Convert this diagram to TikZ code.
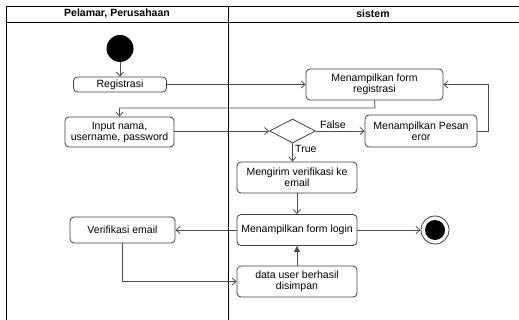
\documentclass[tikz,border=0pt]{standalone}
\usepackage{fontspec}
\setmainfont{Liberation Sans}
\usetikzlibrary{arrows.meta,shapes.geometric}
\begin{document}
\begin{tikzpicture}[x=1pt,y=-1pt,
  font=\fontsize{10.5}{11}\selectfont,
  lane/.style={draw=black,line width=0.8pt},
  act/.style={draw=black!75,line width=0.8pt,rounded corners=4pt,align=center,inner sep=0pt},
  flow/.style={draw=black!70,line width=0.8pt,-{Straight Barb[length=4pt,width=7pt]}},
  solidflow/.style={draw=black!70,line width=0.8pt,-{Triangle[length=6pt,width=6pt]}},
  dec/.style={draw=black!75,line width=0.8pt,diamond,minimum width=46pt,minimum height=24pt,inner sep=0pt}]
\useasboundingbox (0,0) rectangle (519,320);
\fill[white] (0,0) rectangle (519,320);

% swimlanes
\draw[lane] (6,320) -- (6,6) -- (519,6);
\draw[lane] (6,22) -- (519,22);
\draw[lane] (228,6) -- (228,320);
\node[font=\fontsize{10.5}{11}\selectfont\bfseries] (laneA) at (117,14) {Pelamar, Perusahaan};
\node[font=\fontsize{10.5}{11}\selectfont\bfseries] (laneB) at (373,14) {sistem};

% activities
\node[circle,fill=black,minimum size=27pt,inner sep=0pt] (start) at (120,48.5) {};
\node[act,minimum width=93pt,minimum height=15pt] (reg) at (120,84.5) {Registrasi};
\node[act,minimum width=137pt,minimum height=31pt] (formreg) at (374.5,84.5) {Menampilkan form\\registrasi};
\node[act,minimum width=109pt,minimum height=30pt] (input) at (119.5,132) {Input nama,\\username, password};
\node[dec] (cek) at (292.5,131) {};
\node[act,minimum width=112pt,minimum height=32pt] (eror) at (421,131) {Menampilkan Pesan\\eror};
\node[act,minimum width=120pt,minimum height=31pt] (kirim) at (297,177.5) {Mengirim verifikasi ke\\email};
\node[act,minimum width=120pt,minimum height=31pt] (login) at (297,230) {Menampilkan form login};
\node[act,minimum width=105pt,minimum height=26pt] (verif) at (122.5,230) {Verifikasi email};
\node[act,minimum width=120pt,minimum height=31pt] (data) at (297,281.5) {data user berhasil\\disimpan};
\node[circle,draw=black!75,line width=0.8pt,minimum size=28pt,inner sep=0pt] (end) at (435,230) {};
\node[circle,fill=black,minimum size=20pt,inner sep=0pt] (endin) at (435,230) {};

% turning points
\coordinate (backA) at (375,108);
\coordinate (backB) at (488,131);

% flows
\draw[flow] (start) -- (reg);
\draw[flow] (reg) -- (formreg);
\draw[flow] (formreg.south) -- (backA) -| (input.north);
\draw[flow] (input.east |- cek.west) -- (cek.west);
\draw[flow] (cek.east) -- node[above,pos=0.35,yshift=-1pt] {False} (eror.west);
\draw[flow] (eror.east) -- (backB) |- (formreg.east);
\draw[flow] (cek.south) -- node[right,pos=0.3,xshift=-1pt] {True} (cek.south |- kirim.north);
\draw[flow] (kirim) -- (login);
\draw[flow] (login) -- (end);
\draw[flow] (login) -- (verif);
\draw[flow] (verif.south) |- (data.west);
\draw[solidflow] (data) -- (login);
\end{tikzpicture}
\end{document}
